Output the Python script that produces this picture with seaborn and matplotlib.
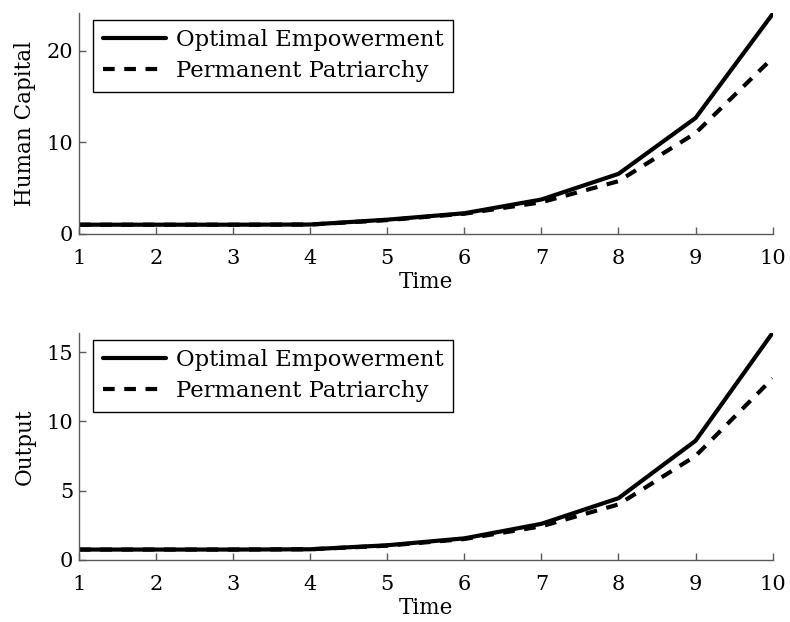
import matplotlib
matplotlib.use("Agg")
import matplotlib.pyplot as plt
import seaborn as sns
import pandas as pd

# Data
time = [1, 2, 3, 4, 5, 6, 7, 8, 9, 10]
capital_optimal = [1.0, 1.0, 1.0, 1.02, 1.55, 2.25, 3.75, 6.55, 12.65, 24.0]
capital_patriarchy = [1.0, 1.0, 1.0, 1.02, 1.5, 2.2, 3.45, 5.75, 11.0, 19.2]
output_optimal = [0.74, 0.74, 0.74, 0.76, 1.05, 1.55, 2.6, 4.45, 8.6, 16.4]
output_patriarchy = [0.74, 0.74, 0.74, 0.76, 1.02, 1.5, 2.42, 4.0, 7.5, 13.1]

series_names = ["Optimal Empowerment", "Permanent Patriarchy"]
x_ticks = list(range(1, 11))
capital_yticks = [0, 10, 20]
output_yticks = [0, 5, 10, 15]

SPINE = "#5a5a5a"


def style_axes(ax, yticks, ymax, ylabel):
    ax.set_xlim(1, 10)
    ax.set_ylim(0, ymax)
    ax.set_xticks(x_ticks)
    ax.set_yticks(yticks)
    ax.set_xlabel("Time", fontsize=15.5, labelpad=2, color="black")
    ax.set_ylabel(ylabel, fontsize=15.5, labelpad=8, color="black")
    for side in ["top", "right"]:
        ax.spines[side].set_visible(False)
    for side in ["left", "bottom"]:
        ax.spines[side].set_color(SPINE)
        ax.spines[side].set_linewidth(1.0)
    ax.tick_params(direction="in", length=5, width=1.0, color=SPINE,
                   labelsize=15, labelcolor="black", bottom=True, left=True)
    ax.tick_params(axis="x", pad=11)
    ax.tick_params(axis="y", pad=4)
    ax.grid(False)
    leg = ax.legend(loc="upper left", bbox_to_anchor=(0.011, 1.0), fontsize=16.4,
                    handlelength=2.75, handletextpad=0.44, borderpad=0.42,
                    labelspacing=0.39, borderaxespad=0.3, fancybox=False,
                    framealpha=1)
    leg.get_frame().set_edgecolor("black")
    leg.get_frame().set_linewidth(1.0)
    for t in leg.get_texts():
        t.set_color("black")


def draw_panel(ax, optimal, patriarchy):
    df = pd.DataFrame({"time": time, "optimal": optimal, "patriarchy": patriarchy})
    sns.lineplot(data=df, x="time", y="optimal", ax=ax, color="black",
                 linewidth=3.0, label=series_names[0])
    sns.lineplot(data=df, x="time", y="patriarchy", ax=ax, color="black",
                 linewidth=3.0, linestyle=(0, (2.8, 2.3)), label=series_names[1])


def main():
    sns.set_style("white")
    plt.rcParams["font.family"] = ["DejaVu Serif"]

    fig = plt.figure(figsize=(7.9, 6.22), dpi=100)
    ax_top = fig.add_axes([0.100, 0.624, 0.878, 0.355])
    ax_bot = fig.add_axes([0.100, 0.100, 0.878, 0.365])

    draw_panel(ax_top, capital_optimal, capital_patriarchy)
    style_axes(ax_top, capital_yticks, 24.1, "Human Capital")

    draw_panel(ax_bot, output_optimal, output_patriarchy)
    style_axes(ax_bot, output_yticks, 16.4, "Output")

    fig.savefig("out.png", dpi=100)


if __name__ == "__main__":
    main()
